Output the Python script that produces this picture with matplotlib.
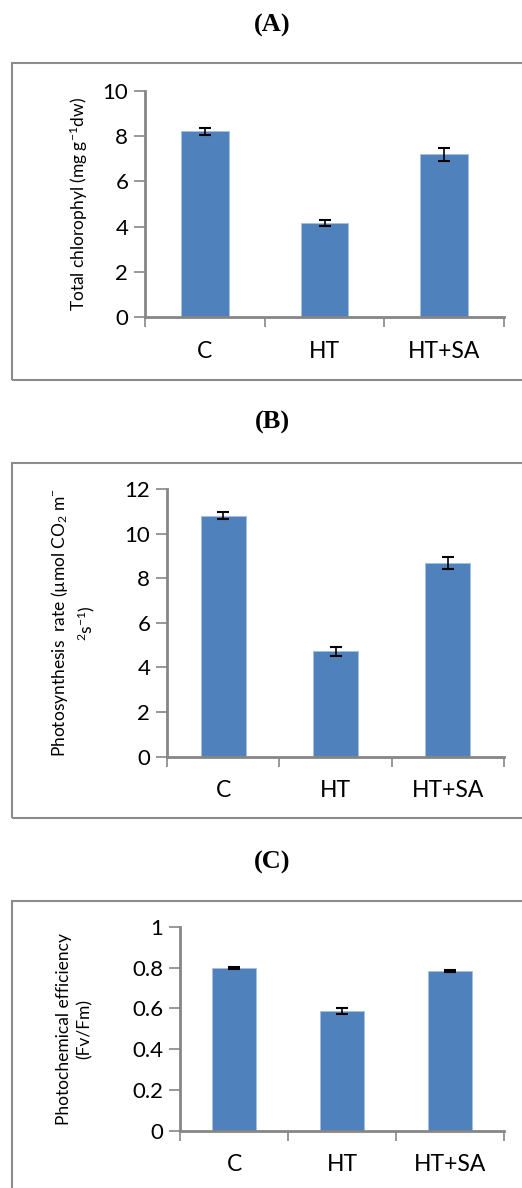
import numpy as np
import matplotlib
matplotlib.use("Agg")
import matplotlib.pyplot as plt
from matplotlib.patches import Rectangle

# treatments and measured means / standard errors
groups = ["C", "HT", "HT+SA"]
chl_mean = [8.2, 4.16, 7.2]
chl_err = [0.16, 0.14, 0.29]
photo_mean = [10.8, 4.73, 8.68]
photo_err = [0.15, 0.2, 0.28]
fvfm_mean = [0.797, 0.587, 0.783]
fvfm_err = [0.004, 0.013, 0.005]

W, H = 522, 1188
bar_color = "#4F81BD"
axis_gray = "#868686"
label_font = ["Lato", "DejaVu Sans"]

plt.rcParams["mathtext.fontset"] = "custom"
plt.rcParams["mathtext.rm"] = "Lato"
plt.rcParams["mathtext.it"] = "Lato:italic"
plt.rcParams["mathtext.default"] = "rm"

fig = plt.figure(figsize=(W / 100, H / 100), dpi=100)


def px_axes(left, right, top, bottom):
    # axes placed by pixel edges (origin top-left)
    return fig.add_axes([left / W, 1 - bottom / H, (right - left) / W, (bottom - top) / H])


def frame(top, bottom):
    fig.patches.append(Rectangle((12 / W, 1 - bottom / H), (530 - 12) / W, (bottom - top) / H,
                                 transform=fig.transFigure, fill=False,
                                 edgecolor="#8c8c8c", linewidth=1.5))


def panel(ax, means, errs, ymax, ystep, ylabel, tickfmt):
    x = np.arange(len(groups))
    ax.bar(x, means, width=0.4, color=bar_color, edgecolor="#a7bfde", linewidth=0.6, zorder=2)
    ax.errorbar(x, means, yerr=errs, fmt="none", ecolor="black", elinewidth=1.2,
                capsize=4, capthick=1.5, zorder=3)
    ax.set_xlim(-0.5, len(groups) - 0.5)
    ax.set_ylim(0, ymax)
    ticks = np.arange(0, ymax + ystep / 2, ystep)
    ax.set_yticks(ticks)
    ax.set_yticklabels([tickfmt(t) for t in ticks], fontsize=16, family=label_font)
    ax.set_xticks(np.arange(-0.5, len(groups)), labels=[""] * (len(groups) + 1))
    ax.set_xticks(x, labels=groups, minor=True)
    ax.tick_params(axis="x", which="minor", length=0, pad=17, labelsize=16.5)
    for t in ax.get_xticklabels(minor=True):
        t.set_family(label_font)
    ax.tick_params(axis="x", which="major", direction="out", length=7, width=1.2, color=axis_gray)
    ax.tick_params(axis="y", direction="out", length=8, width=1.2, color=axis_gray, pad=4)
    for side in ["top", "right"]:
        ax.spines[side].set_visible(False)
    for side in ["left", "bottom"]:
        ax.spines[side].set_color(axis_gray)
        ax.spines[side].set_linewidth(2)
    ax.set_facecolor("none")
    ax.set_ylabel(ylabel, fontsize=12.5, family=label_font, linespacing=1.35)


def title(text, ypx):
    fig.text(272 / W, 1 - ypx / H, text, ha="center", va="center",
             fontsize=19, fontweight="bold", family="Liberation Serif")


# (A) total chlorophyll
title("(A)", 25)
frame(63, 380)
axA = px_axes(145, 504, 90.7, 317.3)
panel(axA, chl_mean, chl_err, 10, 2, "Total chlorophyl (mg g$^{-1}$dw)",
      lambda t: "%d" % t)
axA.yaxis.set_label_coords(-0.152, 0.5)

# (B) photosynthesis rate
title("(B)", 422)
frame(462.7, 817.7)
axB = px_axes(167, 504, 489, 756.7)
panel(axB, photo_mean, photo_err, 12, 2,
      "Photosynthesis  rate (µmol CO$_{2}$ m$^{-}$\n$^{2}$s$^{-1}$)",
      lambda t: "%d" % t)
axB.yaxis.set_label_coords(-0.207, 0.5)

# (C) photochemical efficiency
title("(C)", 862)
frame(901, 1200)
axC = px_axes(180, 504, 926.7, 1130.7)
panel(axC, fvfm_mean, fvfm_err, 1.0, 0.2, "Photochemical efficiency\n(Fv/Fm)",
      lambda t: "%g" % round(t, 1))
axC.yaxis.set_label_coords(-0.268, 0.5)

fig.savefig("out.png", dpi=100)
